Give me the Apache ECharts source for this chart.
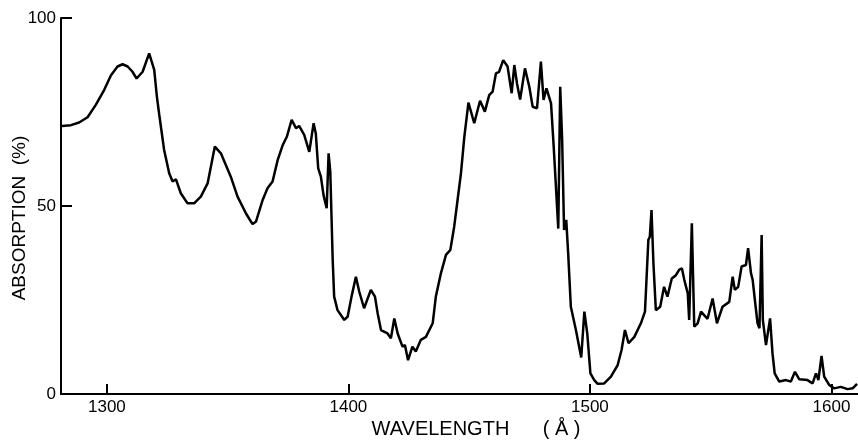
<!DOCTYPE html>
<html lang="en">
<head>
    <meta charset="utf-8" />
    <title>Absorption spectrum</title>
    <style>
        html, body { margin: 0; padding: 0; background: #ffffff; }
        #main { width: 858px; height: 440px; }
    </style>
</head>
<body>
<div id="main"></div>

<script src="https://cdn.jsdelivr.net/npm/echarts@6/dist/echarts.min.js"></script>
<script type="text/javascript">
    // wavelength in angstrom
    var wavelength = [
        1281.4, 1285.1, 1288.5, 1292.0, 1295.4, 1298.9, 1301.7, 1304.4, 1306.5, 1308.6,
        1310.6, 1312.3, 1314.8, 1317.5, 1319.6, 1320.7, 1321.7, 1322.4, 1323.7, 1325.8,
        1327.2, 1328.6, 1330.6, 1333.4, 1336.1, 1338.9, 1341.7, 1344.7, 1347.2, 1351.3,
        1354.1, 1357.6, 1360.3, 1361.7, 1364.5, 1366.5, 1368.6, 1370.7, 1372.8, 1374.5,
        1376.5, 1378.3, 1379.6, 1381.7, 1383.8, 1385.6, 1386.5, 1387.5, 1388.6, 1389.7,
        1391.0, 1391.8, 1392.5, 1393.5, 1394.1, 1395.5, 1398.3, 1399.7, 1401.3, 1403.1,
        1404.5, 1406.5, 1409.3, 1411.0, 1412.1, 1413.5, 1416.2, 1417.6, 1419.0, 1420.4,
        1422.4, 1423.4, 1424.7, 1426.5, 1427.9, 1430.0, 1432.1, 1434.9, 1436.2, 1438.3,
        1440.4, 1442.2, 1443.8, 1445.2, 1446.6, 1448.0, 1449.7, 1452.1, 1454.5, 1456.5,
        1458.3, 1459.7, 1461.1, 1462.4, 1464.1, 1465.9, 1467.6, 1468.7, 1469.8, 1471.1,
        1473.1, 1474.9, 1476.3, 1478.1, 1479.7, 1480.8, 1482.0, 1483.9, 1485.0, 1486.9,
        1487.7, 1488.5, 1489.3, 1490.2, 1491.0, 1492.1, 1494.2, 1496.4, 1497.7, 1498.9,
        1500.2, 1501.8, 1503.2, 1505.9, 1508.7, 1511.5, 1513.1, 1514.5, 1516.0, 1518.4,
        1521.1, 1522.8, 1524.2, 1524.8, 1525.5, 1526.3, 1527.3, 1529.1, 1530.7, 1532.1,
        1533.9, 1535.6, 1537.0, 1538.1, 1539.1, 1540.5, 1541.1, 1542.2, 1543.2, 1544.6,
        1546.0, 1548.7, 1550.8, 1552.6, 1554.9, 1557.7, 1559.1, 1560.0, 1561.4, 1562.8,
        1564.6, 1565.5, 1566.7, 1567.4, 1568.3, 1569.4, 1570.2, 1571.1, 1571.6, 1572.9,
        1574.6, 1575.6, 1576.5, 1578.4, 1581.2, 1583.2, 1584.9, 1586.7, 1590.1, 1592.2,
        1593.6, 1594.6, 1595.9, 1597.0, 1599.1, 1601.1, 1603.9, 1606.7, 1608.8, 1610.6
    ];
    // absorption in percent
    var absorption = [
        71.3, 71.5, 72.2, 73.6, 76.9, 80.9, 84.8, 87.1, 87.7, 87.1,
        85.7, 83.9, 85.7, 90.6, 86.2, 79.1, 74.2, 73.8, 64.9, 58.7,
        56.5, 57.1, 53.4, 50.7, 50.7, 52.5, 56.0, 65.8, 64.0, 57.8,
        52.5, 48.0, 45.2, 45.8, 51.6, 54.7, 56.5, 62.2, 66.2, 68.4,
        72.9, 70.7, 71.3, 68.9, 64.4, 72.0, 69.3, 60.0, 57.8, 52.9,
        49.4, 64.0, 59.1, 35.6, 25.9, 22.3, 19.7, 20.6, 25.9, 31.2,
        27.2, 22.8, 27.7, 25.9, 21.5, 17.0, 16.1, 14.8, 20.1, 16.1,
        12.6, 13.0, 9.0, 12.6, 11.3, 14.4, 15.2, 18.8, 25.9, 32.1,
        37.0, 38.3, 44.5, 51.6, 58.7, 68.4, 77.5, 72.0, 78.0, 75.1,
        79.5, 80.4, 85.3, 85.7, 88.8, 87.1, 80.0, 87.5, 82.6, 78.3,
        86.6, 81.7, 76.4, 76.0, 88.4, 78.2, 81.3, 77.3, 65.8, 44.0,
        81.7, 67.6, 43.6, 46.3, 37.4, 23.2, 17.0, 9.7, 21.9, 16.1,
        5.5, 3.7, 2.7, 2.8, 4.6, 7.7, 11.7, 17.0, 13.5, 15.2,
        18.8, 21.9, 41.0, 41.8, 48.9, 34.7, 22.3, 23.2, 28.5, 25.9,
        30.7, 31.6, 33.1, 33.4, 30.3, 26.8, 19.7, 45.4, 17.9, 18.8,
        21.9, 20.0, 25.4, 18.8, 23.2, 24.5, 31.2, 27.7, 28.5, 33.9,
        34.3, 38.8, 32.1, 30.3, 25.0, 18.8, 17.5, 42.3, 19.7, 13.0,
        20.1, 10.8, 5.5, 3.3, 3.7, 3.3, 5.9, 3.9, 3.7, 2.8,
        5.5, 3.7, 10.1, 4.6, 2.4, 1.5, 1.9, 1.3, 1.5, 2.7
    ];
    var xTicks = [1300, 1400, 1500, 1600];
    var yTicks = [50, 100];
    var yLabels = [0, 50, 100];

    var points = [];
    for (var i = 0; i < wavelength.length; i++) {
        points.push([wavelength[i], absorption[i]]);
    }

    var font = 'Liberation Sans, Arial, sans-serif';
    var myChart = echarts.init(document.getElementById('main'));
    var option = {
        animation: false,
        backgroundColor: '#ffffff',
        grid: { left: 61, right: 0, top: 18, bottom: 46, outerBoundsMode: 'none', containLabel: false },
        xAxis: {
            type: 'value',
            min: 1281,
            max: 1611,
            name: 'WAVELENGTH      ( Å )',
            nameLocation: 'middle',
            nameGap: 25,
            nameMoveOverlap: false,
            nameTextStyle: { color: '#000', fontSize: 20, fontFamily: font, padding: [0, 0, 0, 33] },
            axisLine: { show: true, lineStyle: { color: '#000', width: 2 } },
            axisTick: { show: true, inside: true, length: 10, customValues: xTicks, lineStyle: { color: '#000', width: 2 } },
            axisLabel: {
                color: '#000', fontSize: 17, fontFamily: font, margin: 5, customValues: xTicks,
                formatter: function (v) { return String(v); }
            },
            splitLine: { show: false }
        },
        yAxis: {
            type: 'value',
            min: 0,
            max: 100,
            interval: 50,
            name: 'ABSORPTION  (%)',
            nameLocation: 'middle',
            nameGap: 32,
            nameMoveOverlap: false,
            nameTextStyle: { color: '#000', fontSize: 19, fontFamily: font, padding: [0, 24, 0, 0] },
            axisLine: { show: true, lineStyle: { color: '#000', width: 2 } },
            axisTick: { show: true, inside: true, length: 11, customValues: yTicks, lineStyle: { color: '#000', width: 2 } },
            axisLabel: { color: '#000', fontSize: 17, fontFamily: font, margin: 5, customValues: yLabels },
            splitLine: { show: false }
        },
        series: [
            {
                type: 'line',
                data: points,
                showSymbol: false,
                lineStyle: { color: '#000', width: 2.5 }
            }
        ]
    };
    myChart.setOption(option);
</script>
</body>
</html>
